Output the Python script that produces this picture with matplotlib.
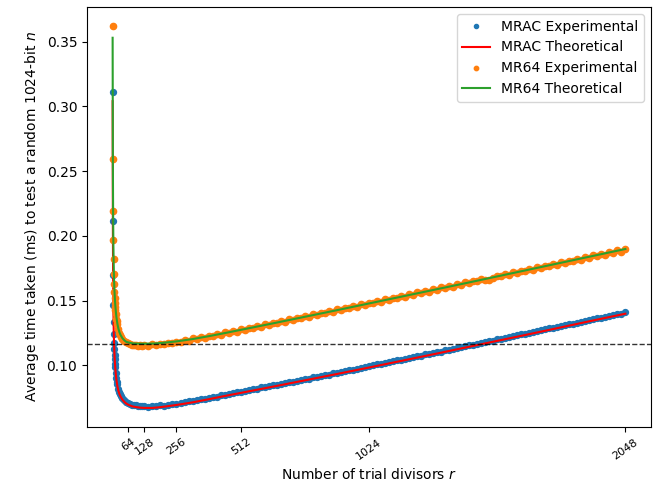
import matplotlib
matplotlib.use("Agg")
import matplotlib.pyplot as plt

# trial divisor counts where the experiments were sampled
r_exp = [1, 2, 3, 4, 5, 6, 7, 8, 9, 10, 11, 12, 14, 16, 18, 20, 24, 28, 32, 36,
         40, 48, 56, 64, 72, 80, 88, 96, 104, 112, 120,
         128, 144, 160, 176, 192, 208, 224, 240, 256, 272, 288, 304, 320, 336, 352, 368,
         384, 400, 416, 432, 448, 464, 480, 496, 512, 528, 544, 560, 576, 592, 608, 624,
         640, 656, 672, 688, 704, 720, 736, 752, 768, 784, 800, 816, 832, 848, 864, 880,
         896, 912, 928, 944, 960, 976, 992, 1008, 1024, 1040, 1056, 1072, 1088, 1104, 1120, 1136,
         1152, 1168, 1184, 1200, 1216, 1232, 1248, 1264, 1280, 1296, 1312, 1328, 1344, 1360, 1376, 1392,
         1408, 1424, 1440, 1456, 1472, 1488, 1504, 1520, 1536, 1552, 1568, 1584, 1600, 1616, 1632, 1648,
         1664, 1680, 1696, 1712, 1728, 1744, 1760, 1776, 1792, 1808, 1824, 1840, 1856, 1872, 1888, 1904,
         1920, 1936, 1952, 1968, 1984, 2000, 2016, 2032, 2048]

mrac_exp = [0.3110, 0.2115, 0.1700, 0.1467, 0.1337, 0.1242, 0.1169, 0.1125, 0.1082, 0.1050,
            0.1012, 0.0985, 0.0942, 0.0905, 0.0874, 0.0852, 0.0818, 0.0792, 0.0775, 0.0760,
            0.0748, 0.0728, 0.0716, 0.0707, 0.0700, 0.0696, 0.0690, 0.0689, 0.0686, 0.0684, 0.0683,
            0.0685, 0.0681, 0.0686, 0.0683, 0.0690, 0.0688, 0.0696, 0.0699, 0.0704, 0.0711, 0.0713, 0.0722, 0.0724, 0.0733, 0.0737, 0.0742,
            0.0749, 0.0757, 0.0758, 0.0768, 0.0771, 0.0779, 0.0783, 0.0792, 0.0795, 0.0804, 0.0806, 0.0815, 0.0818, 0.0828, 0.0830, 0.0838,
            0.0844, 0.0851, 0.0853, 0.0864, 0.0867, 0.0872, 0.0881, 0.0885, 0.0893, 0.0897, 0.0906, 0.0911, 0.0915, 0.0925, 0.0928, 0.0937,
            0.0941, 0.0949, 0.0952, 0.0962, 0.0966, 0.0972, 0.0981, 0.0985, 0.0993, 0.0998, 0.1006, 0.1010, 0.1019, 0.1023, 0.1030, 0.1037,
            0.1042, 0.1050, 0.1054, 0.1064, 0.1068, 0.1075, 0.1083, 0.1086, 0.1095, 0.1101, 0.1106, 0.1116, 0.1120, 0.1126, 0.1135, 0.1139,
            0.1147, 0.1153, 0.1158, 0.1167, 0.1173, 0.1178, 0.1186, 0.1190, 0.1199, 0.1205, 0.1210, 0.1219, 0.1224, 0.1230, 0.1239, 0.1243,
            0.1251, 0.1257, 0.1263, 0.1271, 0.1276, 0.1284, 0.1290, 0.1296, 0.1304, 0.1309, 0.1317, 0.1322, 0.1328, 0.1337, 0.1341, 0.1349,
            0.1355, 0.1362, 0.1368, 0.1374, 0.1382, 0.1386, 0.1395, 0.1399, 0.1408]

mr64_exp = [0.3620, 0.2590, 0.2190, 0.1970, 0.1823, 0.1705, 0.1625, 0.1565, 0.1520, 0.1480,
            0.1452, 0.1430, 0.1395, 0.1360, 0.1338, 0.1318, 0.1280, 0.1252, 0.1233, 0.1220,
            0.1206, 0.1188, 0.1178, 0.1170, 0.1163, 0.1159, 0.1155, 0.1160, 0.1152, 0.1157, 0.1150,
            0.1158, 0.1152, 0.1163, 0.1155, 0.1166, 0.1162, 0.1171, 0.1168, 0.1181, 0.1177, 0.1196, 0.1190, 0.1207, 0.1203, 0.1219, 0.1213,
            0.1229, 0.1224, 0.1241, 0.1237, 0.1255, 0.1249, 0.1266, 0.1260, 0.1279, 0.1274, 0.1290, 0.1287, 0.1305, 0.1298, 0.1317, 0.1312,
            0.1329, 0.1325, 0.1343, 0.1336, 0.1355, 0.1350, 0.1368, 0.1362, 0.1380, 0.1376, 0.1394, 0.1387, 0.1406, 0.1401, 0.1419, 0.1413,
            0.1432, 0.1426, 0.1445, 0.1439, 0.1458, 0.1452, 0.1471, 0.1465, 0.1484, 0.1478, 0.1497, 0.1491, 0.1510, 0.1504, 0.1523, 0.1517,
            0.1536, 0.1530, 0.1549, 0.1543, 0.1562, 0.1556, 0.1575, 0.1569, 0.1588, 0.1582, 0.1601, 0.1595, 0.1614, 0.1608, 0.1627, 0.1621,
            0.1640, 0.1634, 0.1653, 0.1647, 0.1666, 0.1660, 0.1662, 0.1673, 0.1692, 0.1686, 0.1705, 0.1699, 0.1718, 0.1712, 0.1731, 0.1725,
            0.1744, 0.1738, 0.1757, 0.1751, 0.1770, 0.1764, 0.1783, 0.1777, 0.1796, 0.1790, 0.1809, 0.1803, 0.1822, 0.1816, 0.1835, 0.1829,
            0.1848, 0.1842, 0.1861, 0.1855, 0.1874, 0.1868, 0.1887, 0.1877, 0.1900]

# theoretical curves
r_theory = [1, 2, 3, 4, 5, 6, 7, 8, 10, 12, 14, 16, 20, 24, 28, 32, 40, 48, 56, 64, 80, 96, 112,
            128, 160, 192, 256, 320, 384, 448, 512, 640, 768, 896, 1024, 1152, 1280, 1408,
            1536, 1664, 1792, 1920, 2048]

mrac_theory = [0.3040, 0.2055, 0.1655, 0.1435, 0.1305, 0.1215, 0.1148, 0.1100, 0.1025, 0.0968,
               0.0925, 0.0890, 0.0838, 0.0803, 0.0778, 0.0760, 0.0734, 0.0716, 0.0703, 0.0694,
               0.0682, 0.0676, 0.0672, 0.0670, 0.0670, 0.0676, 0.0693, 0.0713, 0.0737, 0.0762,
               0.0786, 0.0834, 0.0883, 0.0932, 0.0982, 0.1033, 0.1084, 0.1136, 0.1188, 0.1240,
               0.1293, 0.1346, 0.1398]

mr64_theory = [0.3530, 0.2555, 0.2155, 0.1935, 0.1805, 0.1710, 0.1640, 0.1590, 0.1512, 0.1455,
               0.1410, 0.1373, 0.1320, 0.1283, 0.1256, 0.1236, 0.1209, 0.1192, 0.1180, 0.1176,
               0.1169, 0.1167, 0.1166, 0.1166, 0.1167, 0.1171, 0.1184, 0.1202, 0.1224, 0.1248,
               0.1273, 0.1323, 0.1374, 0.1425, 0.1477, 0.1529, 0.1581, 0.1633, 0.1686, 0.1739,
               0.1792, 0.1845, 0.1898]

ticks = [64, 128, 256, 512, 1024, 2048]

fig, ax = plt.subplots(figsize=(6.62, 4.91), dpi=100)
fig.subplots_adjust(left=0.1314, right=0.9834, top=0.9857, bottom=0.1303)

ax.plot(r_exp, mrac_exp, '.', color='C0', ms=8.5, label='MRAC Experimental')
ax.plot(r_theory, mrac_theory, '-', color='red', label='MRAC Theoretical')
ax.plot(r_exp, mr64_exp, '.', color='C1', ms=9, label='MR64 Experimental')
ax.plot(r_theory, mr64_theory, '-', color='C2', label='MR64 Theoretical')
ax.axhline(min(mr64_theory), color='k', ls='--', lw=1, alpha=0.8)

ax.set_xticks(ticks)
ax.set_xticklabels([str(t) for t in ticks], rotation=35, fontsize=8)
ax.set_xlabel('Number of trial divisors $r$')
ax.set_ylabel('Average time taken (ms) to test a random 1024-bit $n$')
ax.legend(loc='upper right', markerscale=0.7)

fig.savefig('out.png', dpi=100)
